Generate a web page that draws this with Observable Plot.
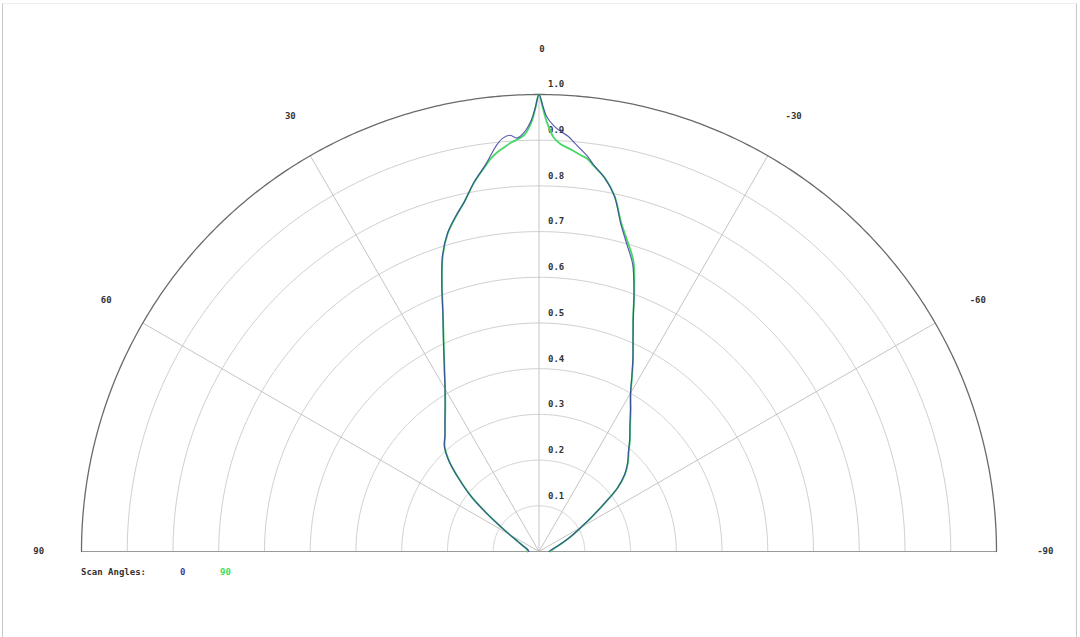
<!DOCTYPE html>
<html>
<head>
<meta charset="utf-8">
<script src="https://cdn.jsdelivr.net/npm/d3@7"></script>
<script src="https://cdn.jsdelivr.net/npm/@observablehq/plot@0.6"></script>
<style>
  html, body { margin: 0; padding: 0; background: #fff; }
  #wrap { position: relative; width: 1080px; height: 637px; overflow: hidden; }
  #frame { position: absolute; left: 2px; top: 3px; width: 1073px; height: 660px;
           border-left: 1px solid #c8c8c8; border-right: 1px solid #c8c8c8; border-top: 1px solid #eee; }
  #chart { position: absolute; left: 0; top: 0; }
  .lg { position: absolute; top: 567px; font: bold 9px "DejaVu Sans Mono", monospace; color: #333; }
</style>
</head>
<body>
<div id="wrap">
  <div id="frame"></div>
  <div id="chart"></div>
  <span class="lg" style="left:81px">Scan Angles:</span>
  <span class="lg" style="left:180px;color:#3a3aa0">0</span>
  <span class="lg" style="left:220px;color:#44dd55">90</span>
</div>
<script>
// Angles (degrees, positive to the left of the 0° axis)
const angles = [-90,-80,-70,-65,-60,-57,-54,-51,-48,-45,-42,-39,-36,-33,-30,-28,-26,-24,-22,-20,-18,-16,-14,-12,-10,-8,-7,-6,-5,-4,-3,-2,-1,-0.5,0,0.5,1,2,3,4,5,6,7,8,10,12,14,16,18,20,22,24,26,28,30,33,36,39,42,45,48,51,54,57,60,65,70,80,90];
// Relative intensity, scan angle 0
const scan0 = [0.022,0.03,0.053,0.075,0.106,0.135,0.172,0.22,0.252,0.274,0.292,0.315,0.338,0.367,0.40,0.432,0.468,0.505,0.55,0.607,0.662,0.698,0.739,0.794,0.829,0.855,0.871,0.884,0.897,0.911,0.92,0.932,0.952,0.975,1.0,0.97,0.945,0.918,0.906,0.913,0.908,0.893,0.872,0.852,0.82,0.783,0.755,0.725,0.682,0.621,0.561,0.514,0.474,0.44,0.411,0.377,0.35,0.327,0.309,0.277,0.233,0.19,0.14,0.1,0.075,0.05,0.038,0.025,0.022];
// Relative intensity, scan angle 90
const scan90 = [0.025,0.032,0.054,0.076,0.107,0.136,0.173,0.221,0.253,0.275,0.293,0.316,0.339,0.368,0.401,0.433,0.469,0.506,0.549,0.609,0.668,0.704,0.742,0.795,0.83,0.853,0.866,0.872,0.879,0.886,0.893,0.907,0.942,0.97,1.0,0.968,0.94,0.912,0.903,0.896,0.887,0.878,0.866,0.85,0.819,0.783,0.754,0.724,0.681,0.62,0.56,0.513,0.473,0.439,0.41,0.376,0.349,0.326,0.308,0.276,0.232,0.189,0.139,0.1,0.074,0.05,0.038,0.027,0.025];

const ringValues = [0.1,0.2,0.3,0.4,0.5,0.6,0.7,0.8,0.9,1.0];
const ringLabels = ["0.1","0.2","0.3","0.4","0.5","0.6","0.7","0.8","0.9","1.0"];
const spokeAngles = [-60,-30,0,30,60];
const angleTicks = [90,60,30,0,-30,-60,-90];
const angleTickLabels = ["90","60","30","0","-30","-60","-90"];
const seriesNames = ["0","90"];
const seriesColors = ["#33349c","#48d868"];

const rad = a => a * Math.PI / 180;
const px = (a, r) => -r * Math.sin(rad(a));
const py = (a, r) => r * Math.cos(rad(a));

const ringPts = ringValues.flatMap(r => d3.range(-90, 90.01, 0.5).map(a => ({r, x: px(a, r), y: py(a, r)})));
const innerRings = ringPts.filter(d => d.r < 1);
const outerRing = ringPts.filter(d => d.r === 1);

const toPts = (vals, name) => angles.map((a, i) => ({series: name, x: px(a, vals[i]), y: py(a, vals[i])}));
const pts0 = toPts(scan0, seriesNames[0]);
const pts90 = toPts(scan90, seriesNames[1]);

const chart = Plot.plot({
  width: 1080,
  height: 637,
  margin: 0,
  x: {domain: [-1, 1], range: [81, 996], axis: null},
  y: {domain: [0, 1], range: [551, 94], axis: null},
  style: {fontFamily: "'DejaVu Sans Mono', monospace", fontSize: "9px", fontWeight: "bold", background: "transparent"},
  marks: [
    Plot.line(innerRings, {x: "x", y: "y", z: "r", stroke: "#cfcfcf", strokeWidth: 1}),
    Plot.link(spokeAngles, {x1: () => 0, y1: () => 0, x2: a => px(a, 1), y2: a => py(a, 1), stroke: "#c4c4c4", strokeWidth: 1}),
    Plot.link([0], {x1: () => -1, x2: () => 1, y1: () => 0, y2: () => 0, stroke: "#9a9a9a", strokeWidth: 1}),
    Plot.line(outerRing, {x: "x", y: "y", stroke: "#6a6a6a", strokeWidth: 1.3}),
    Plot.text(ringValues, {x: () => 0, y: d => d, text: (d, i) => ringLabels[i], dx: 9, dy: -10, textAnchor: "start", fill: "#333"}),
    Plot.text(angleTicks, {x: a => px(a, 1.1), y: a => py(a, 1.1), text: (d, i) => angleTickLabels[i], dx: 3, fill: "#333"}),
    Plot.line(pts90, {x: "x", y: "y", stroke: seriesColors[1], strokeWidth: 1.8, curve: "catmull-rom"}),
    Plot.line(pts0, {x: "x", y: "y", stroke: seriesColors[0], strokeWidth: 1.2, strokeOpacity: 0.8, curve: "catmull-rom"})
  ]
});
document.getElementById("chart").appendChild(chart);
</script>
</body>
</html>
